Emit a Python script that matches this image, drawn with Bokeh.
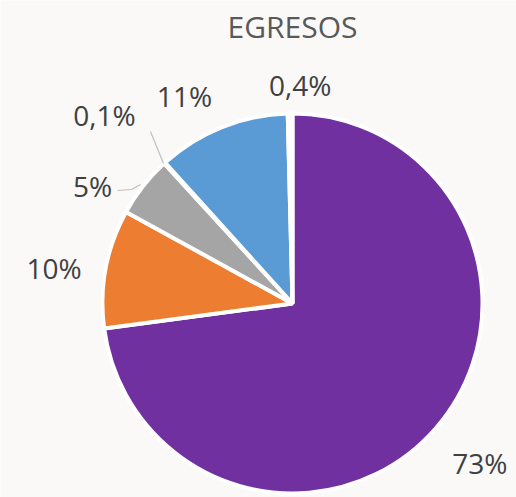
import math
from bokeh.plotting import figure
from bokeh.models import Range1d, ColumnDataSource
from bokeh.core.properties import value
from bokeh.embed import file_html
from bokeh.resources import INLINE

# ---- data ----
categories = ["A", "B", "C", "D", "E", "F"]
shares = [72.9, 10.1, 5.2, 0.1, 11.3, 0.4]
labels = ["73%", "10%", "5%", "0,1%", "11%", "0,4%"]
colors = ["#7030a0", "#ed7d31", "#a5a5a5", "#ffc000", "#5b9bd5", "#fbfaf9"]
title = "EGRESOS"

# ---- layout ----
W, H = 516, 497
BG = "#faf9f8"
CX, CY, R = 292, 303, 190          # page pixel coordinates of the pie
# label placement: (angle clockwise from top in degrees, distance from centre)
label_polar = [(130.4, 246), (278.5, 241), (300.5, 232), (315.0, 266), (332.5, 234), (2.0, 219)]


def dx(sx):
    return sx


def dy(sy):
    return H - sy


p = figure(width=W, height=H, output_backend="svg", toolbar_location=None,
           x_range=Range1d(0, W), y_range=Range1d(0, H), min_border=0)
p.axis.visible = False
p.grid.visible = False
p.outline_line_color = None
p.background_fill_color = BG
p.border_fill_color = BG

total = sum(shares)
starts, ends = [], []
cum = 0.0
for s in shares:
    a0 = math.pi / 2 - 2 * math.pi * cum / total
    cum += s
    a1 = math.pi / 2 - 2 * math.pi * cum / total
    starts.append(a0)
    ends.append(a1)

src = ColumnDataSource(dict(cat=categories, start=starts, end=ends, color=colors,
                            x=[dx(CX)] * len(shares), y=[dy(CY)] * len(shares)))
p.wedge(x="x", y="y", radius=R, start_angle="start", end_angle="end",
        direction="clock", fill_color="color", line_color="white", line_width=4,
        source=src)

# leader lines for small slices
p.line([dx(150), dx(163)], [dy(131), dy(163)], line_color="#bfbfbf", line_width=1.2)
p.line([dx(117), dx(131), dx(140)], [dy(190), dy(189), dy(184)], line_color="#bfbfbf", line_width=1.2)

lx, ly = [], []
for ang, r in label_polar:
    t = math.radians(ang)
    lx.append(dx(CX + r * math.sin(t)))
    ly.append(dy(CY - r * math.cos(t)))
p.text(x=lx, y=ly, text=labels, text_align="center", text_baseline="middle",
       text_font=value("Open Sans"), text_font_size="28px", text_color="#404040")

p.text(x=[dx(292)], y=[dy(26)], text=[title], text_align="center", text_baseline="middle",
       text_font=value("Open Sans"), text_font_size="30px", text_color="#595959",
       text_font_style="normal")

open("out.html", "w").write(file_html(p, INLINE))
